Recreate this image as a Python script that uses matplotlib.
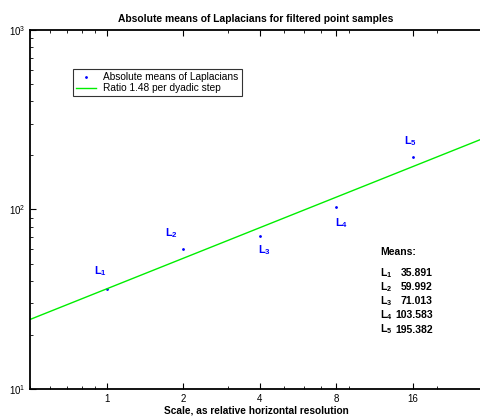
import numpy as np
import matplotlib
matplotlib.use("Agg")
import matplotlib.pyplot as plt
from matplotlib.ticker import FixedLocator, FixedFormatter, LogLocator, NullFormatter

plt.rcParams['font.family'] = ['Liberation Sans', 'DejaVu Sans']
plt.rcParams['mathtext.fontset'] = 'custom'
plt.rcParams['mathtext.rm'] = 'Liberation Sans'
plt.rcParams['mathtext.bf'] = 'Liberation Sans:bold'

# data
scales = [1, 2, 4, 8, 16]
means = [35.891, 59.992, 71.013, 103.583, 195.382]
labels = [r"$\mathbf{L}_\mathbf{1}$", r"$\mathbf{L}_\mathbf{2}$", r"$\mathbf{L}_\mathbf{3}$",
          r"$\mathbf{L}_\mathbf{4}$", r"$\mathbf{L}_\mathbf{5}$"]
ratio = 1.48
xticks = [1, 2, 4, 8, 16]
xlim = (0.5, 30)
ylim = (10, 1000)

# fitted line through the geometric centroid with fixed ratio per dyadic step
lx = np.log2(scales)
ly = np.log(means)
c = np.mean(ly) - np.log(ratio) * np.mean(lx)
line_x = np.array(xlim)
line_y = np.exp(c) * ratio ** np.log2(line_x)

fig = plt.figure(figsize=(4.8, 4.19), dpi=100)
ax = fig.add_axes([30/480, 30/419, 452/480, 359/419])

ax.plot(scales, means, linestyle='none', marker='.', markersize=2.0, color='blue',
        label='Absolute means of Laplacians')
ax.plot(line_x, line_y, color='#00ee00', linewidth=1.0, label='Ratio 1.48 per dyadic step')

ax.set_xscale('log')
ax.set_yscale('log')
ax.set_xlim(*xlim)
ax.set_ylim(*ylim)

ax.xaxis.set_major_locator(FixedLocator(xticks))
ax.xaxis.set_major_formatter(FixedFormatter([str(t) for t in xticks]))
ax.xaxis.set_minor_locator(LogLocator(base=10, subs=np.arange(2, 10)))
ax.xaxis.set_minor_formatter(NullFormatter())
ax.yaxis.set_minor_locator(LogLocator(base=10, subs=np.arange(2, 10)))
ax.yaxis.set_minor_formatter(NullFormatter())

ax.tick_params(which='both', direction='in', top=True, right=False, labelsize=7)
ax.tick_params(which='major', length=4, width=0.8)
ax.tick_params(which='minor', length=2, width=0.6)
for s in ax.spines.values():
    s.set_linewidth(1.3)

# point labels (offsets in points)
offsets = [(-4.3, 13), (-8, 11.5), (3.6, -10), (4.3, -11.5), (-1.4, 12)]
for x, y, lab, (dx, dy) in zip(scales, means, labels, offsets):
    ax.annotate(lab, (x, y), xytext=(dx, dy), textcoords='offset points',
                color='blue', fontsize=8, ha='center', va='center')

# means block
ax.text(0.774, 0.373, "Means:", transform=ax.transAxes, fontsize=7.5, fontweight='bold',
        va='baseline')
for i, (lab, m) in enumerate(zip(labels, means)):
    yy = 0.315 - i * 0.0395
    ax.text(0.774, yy, lab, transform=ax.transAxes, fontsize=7.5, va='baseline')
    ax.text(0.891, yy, "%.3f" % m, transform=ax.transAxes, fontsize=7.5,
            fontweight='bold', va='baseline', ha='right')

leg = ax.legend(loc='upper left', bbox_to_anchor=(0.095, 0.891), fontsize=7.3,
                frameon=True, fancybox=False, edgecolor='black', borderpad=0.3,
                handlelength=2.0, handletextpad=0.7, labelspacing=0.1, borderaxespad=0,
                markerscale=1.0)
leg.get_frame().set_linewidth(0.8)

ax.set_title("Absolute means of Laplacians for filtered point samples", fontsize=7.4,
             fontweight='bold', pad=6)
ax.set_xlabel("Scale, as relative horizontal resolution", fontsize=7.3, fontweight='bold',
              labelpad=1)

fig.savefig("out.png", dpi=100)
